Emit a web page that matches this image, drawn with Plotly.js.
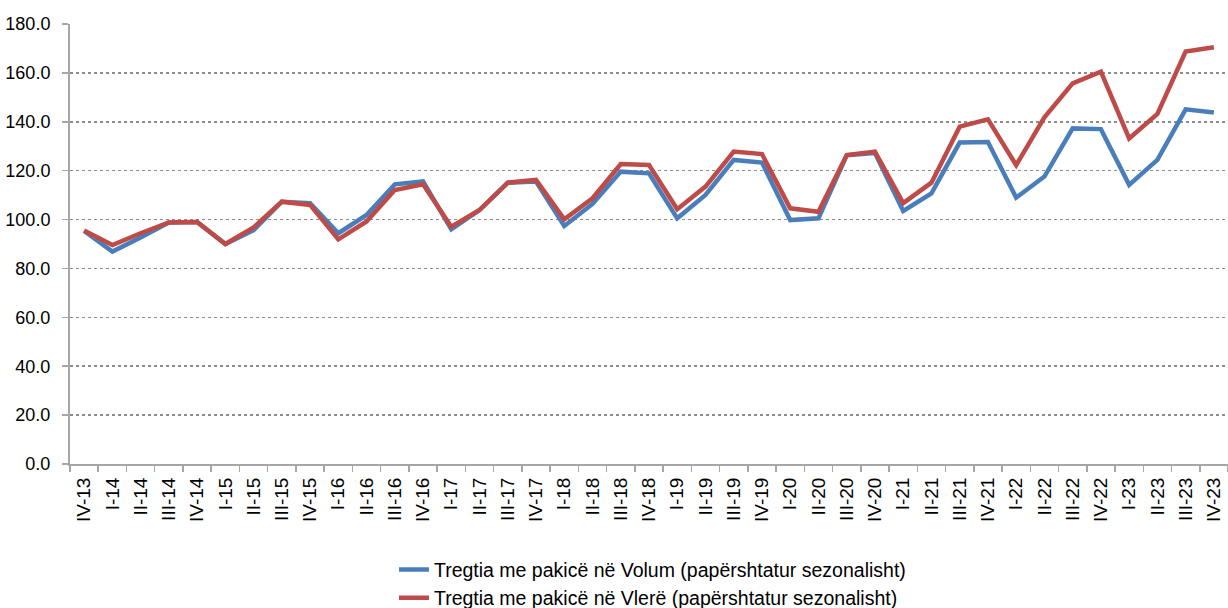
<!DOCTYPE html>
<html>
<head>
<meta charset="utf-8">
<script src="https://cdn.plot.ly/plotly-3.0.1.min.js"></script>
<style>html,body{margin:0;padding:0;background:#fff}#chart{width:1228px;height:608px}</style>
</head>
<body>
<div id="chart"></div>
<script>
const categories = ["IV-13","I-14","II-14","III-14","IV-14","I-15","II-15","III-15","IV-15","I-16","II-16","III-16","IV-16","I-17","II-17","III-17","IV-17","I-18","II-18","III-18","IV-18","I-19","II-19","III-19","IV-19","I-20","II-20","III-20","IV-20","I-21","II-21","III-21","IV-21","I-22","II-22","III-22","IV-22","I-23","II-23","III-23","IV-23"];
const volumValues = [95.3,86.9,92.7,98.8,99.0,90.0,95.7,107.3,106.7,94.4,101.9,114.4,115.6,96.0,103.9,115.1,115.6,97.4,106.4,119.6,118.9,100.5,110.1,124.4,123.3,99.8,100.5,126.3,127.2,103.5,110.7,131.5,131.7,109.0,117.6,137.3,137.0,114.2,124.4,145.1,143.8];
const vlereValues = [95.5,89.6,94.4,98.8,99.0,90.0,96.8,107.3,106.0,91.9,99.2,112.1,114.4,97.1,103.9,115.1,116.2,100.1,108.7,122.7,122.3,104.2,113.5,127.8,126.8,104.6,103.2,126.4,127.8,106.7,115.1,138.0,141.0,122.3,141.8,155.7,160.5,133.2,143.2,168.7,170.5];
const seriesNames = ["Tregtia me pakicë në Volum (papërshtatur sezonalisht)","Tregtia me pakicë në Vlerë (papërshtatur sezonalisht)"];

const fam = "Liberation Sans, Arial, sans-serif";
const traces = [
  {x: categories, y: volumValues, name: seriesNames[0], type: "scatter", mode: "lines", line: {color: "#4A7EBB", width: 4.5}},
  {x: categories, y: vlereValues, name: seriesNames[1], type: "scatter", mode: "lines", line: {color: "#BE4B48", width: 4.5}}
];
const layout = {
  width: 1228, height: 608,
  margin: {l: 70, r: 0, t: 24, b: 144, autoexpand: false},
  paper_bgcolor: "#fff", plot_bgcolor: "#fff",
  font: {family: fam, color: "#000", size: 19},
  showlegend: true,
  legend: {orientation: "v", x: 0.503, xanchor: "center", yref: "container", y: 0.095, yanchor: "top",
           font: {family: fam, size: 19.5, color: "#000"}, bgcolor: "rgba(0,0,0,0)"},
  xaxis: {
    type: "category", tickangle: -90, tickson: "boundaries",
    ticks: "outside", ticklen: 6, tickcolor: "#A6A6A6", tickwidth: 1.5,
    showline: true, linecolor: "#A6A6A6", linewidth: 2,
    showgrid: false, zeroline: false, ticklabelstandoff: 4,
    tickfont: {family: fam, size: 19, color: "#000"},
    range: [-0.5, categories.length - 0.5]
  },
  yaxis: {
    range: [0, 180], dtick: 20, tickformat: ".1f",
    ticks: "outside", ticklen: 6, tickcolor: "#A6A6A6", tickwidth: 1.5,
    showline: true, linecolor: "#A6A6A6", linewidth: 2,
    showgrid: true, gridcolor: "#8C8C8C", griddash: "dot", gridwidth: 1.5,
    zeroline: false, ticklabelstandoff: 8,
    tickfont: {family: fam, size: 18, color: "#000"}
  }
};
Plotly.newPlot("chart", traces, layout, {displayModeBar: false, staticPlot: true});
</script>
</body>
</html>
